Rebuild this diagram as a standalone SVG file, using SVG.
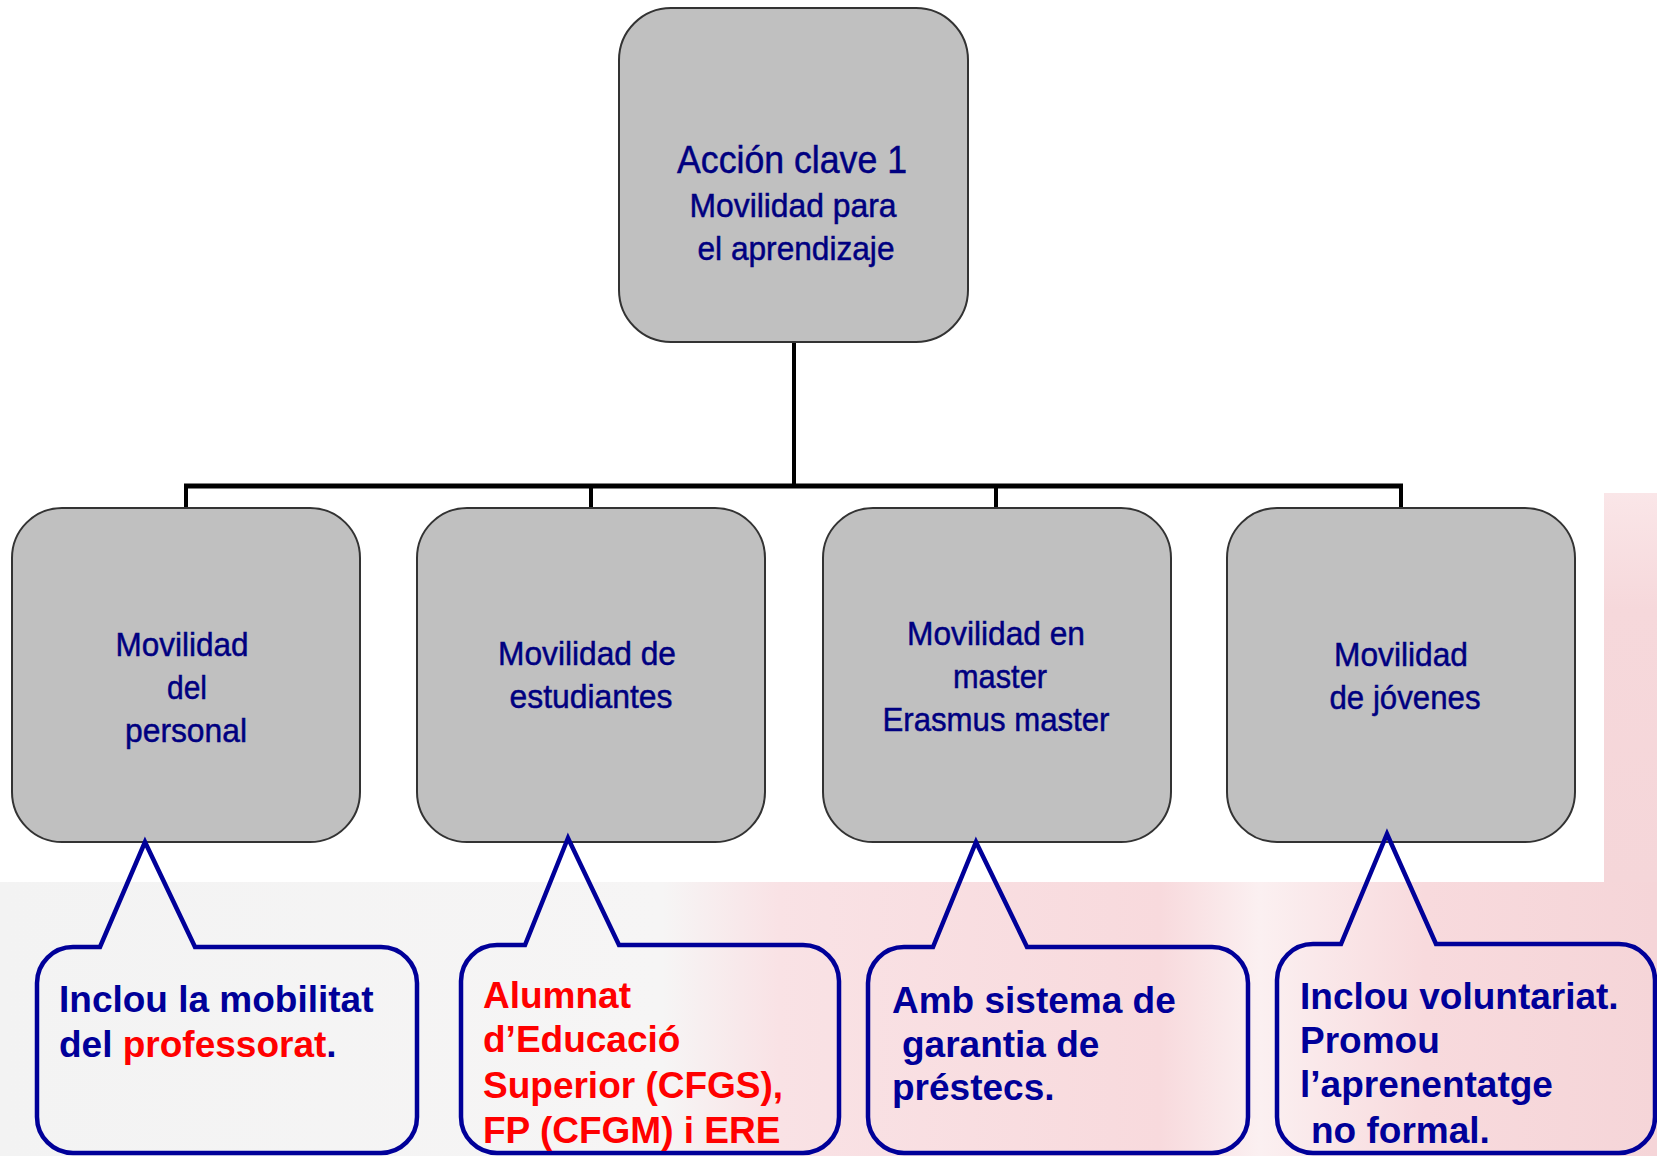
<svg xmlns="http://www.w3.org/2000/svg" width="1657" height="1156" viewBox="0 0 1657 1156">
<style>
.node rect{fill:#c0c0c0;stroke:#333333;stroke-width:2}
.nt{font-family:"Liberation Sans",Arial,sans-serif;fill:#000080;text-anchor:middle;stroke:#000080;stroke-width:0.5}
.conn{stroke:#000000;fill:none}
.callout path{fill:none;stroke:#000099;stroke-width:4.5;stroke-linejoin:miter}
.ct{font-family:"Liberation Sans",Arial,sans-serif;font-weight:bold;font-size:37px;fill:#000099}
.red{fill:#ff0000}
</style>
<defs>
<linearGradient id="bgLow" x1="0" y1="0" x2="1" y2="0">
<stop offset="0" stop-color="#f3f3f3"/>
<stop offset="0.40" stop-color="#f6f5f5"/>
<stop offset="0.47" stop-color="#f9e2e5"/>
<stop offset="0.70" stop-color="#f8dadd"/>
<stop offset="0.76" stop-color="#fbf0f1"/>
<stop offset="0.86" stop-color="#f8dadd"/>
<stop offset="1" stop-color="#f5d5d8"/>
</linearGradient>
<linearGradient id="bgRight" x1="0" y1="0" x2="0" y2="1">
<stop offset="0" stop-color="#fae6e8"/>
<stop offset="0.3" stop-color="#f6d8db"/>
<stop offset="1" stop-color="#f5d6d9"/>
</linearGradient>
</defs>
<rect x="0" y="0" width="1657" height="1156" fill="#ffffff"/>
<rect x="0" y="882" width="1657" height="274" fill="url(#bgLow)"/>
<rect x="1604" y="493" width="53" height="389" fill="url(#bgRight)"/>

<g id="connectors">
<line class="conn" x1="794" y1="342" x2="794" y2="486" stroke-width="4"/>
<line class="conn" x1="184" y1="486" x2="1403" y2="486" stroke-width="5"/>
<line class="conn" x1="186" y1="486" x2="186" y2="508" stroke-width="4"/>
<line class="conn" x1="591" y1="486" x2="591" y2="508" stroke-width="4"/>
<line class="conn" x1="996" y1="486" x2="996" y2="508" stroke-width="4"/>
<line class="conn" x1="1401" y1="486" x2="1401" y2="508" stroke-width="4"/>
</g>

<g id="node-root" class="node">
<rect x="619" y="8" width="349" height="334" rx="52"/>
<text class="nt" x="792" y="173" font-size="38" textLength="230" lengthAdjust="spacingAndGlyphs">Acción clave 1</text>
<text class="nt" x="793" y="217" font-size="33" textLength="207" lengthAdjust="spacingAndGlyphs">Movilidad para</text>
<text class="nt" x="796" y="260" font-size="33" textLength="197" lengthAdjust="spacingAndGlyphs">el aprendizaje</text>
</g>

<g id="node-personal" class="node">
<rect x="12" y="508" width="348" height="334" rx="50"/>
<text class="nt" x="182" y="656" font-size="34" textLength="133" lengthAdjust="spacingAndGlyphs">Movilidad</text>
<text class="nt" x="187" y="699" font-size="34" textLength="40" lengthAdjust="spacingAndGlyphs">del</text>
<text class="nt" x="186" y="742" font-size="34" textLength="122" lengthAdjust="spacingAndGlyphs">personal</text>
</g>

<g id="node-estudiantes" class="node">
<rect x="417" y="508" width="348" height="334" rx="50"/>
<text class="nt" x="587" y="665" font-size="34" textLength="178" lengthAdjust="spacingAndGlyphs">Movilidad de</text>
<text class="nt" x="591" y="708" font-size="34" textLength="163" lengthAdjust="spacingAndGlyphs">estudiantes</text>
</g>

<g id="node-master" class="node">
<rect x="823" y="508" width="348" height="334" rx="50"/>
<text class="nt" x="996" y="645" font-size="34" textLength="178" lengthAdjust="spacingAndGlyphs">Movilidad en</text>
<text class="nt" x="1000" y="688" font-size="34" textLength="94" lengthAdjust="spacingAndGlyphs">master</text>
<text class="nt" x="996" y="731" font-size="34" textLength="227" lengthAdjust="spacingAndGlyphs">Erasmus master</text>
</g>

<g id="node-jovenes" class="node">
<rect x="1227" y="508" width="348" height="334" rx="50"/>
<text class="nt" x="1401" y="666" font-size="34" textLength="134" lengthAdjust="spacingAndGlyphs">Movilidad</text>
<text class="nt" x="1405" y="709" font-size="34" textLength="151" lengthAdjust="spacingAndGlyphs">de jóvenes</text>
</g>

<g id="callout-personal" class="callout">
<path d="M73,947 L100,947 L145,842 L195,947 L381,947 A36,36 0 0 1 417,983 L417,1117 A36,36 0 0 1 381,1153 L73,1153 A36,36 0 0 1 37,1117 L37,983 A36,36 0 0 1 73,947 Z"/>
<text class="ct" x="59" y="1012">Inclou la mobilitat</text>
<text class="ct" x="59" y="1057">del <tspan class="red">professorat</tspan>.</text>
</g>

<g id="callout-estudiantes" class="callout">
<path d="M497,945 L525,945 L568,838 L619,945 L803,945 A36,36 0 0 1 839,981 L839,1117 A36,36 0 0 1 803,1153 L497,1153 A36,36 0 0 1 461,1117 L461,981 A36,36 0 0 1 497,945 Z"/>
<text class="ct red" x="483" y="1008">Alumnat</text>
<text class="ct red" x="483" y="1052">d’Educació</text>
<text class="ct red" x="483" y="1098">Superior (CFGS),</text>
<text class="ct red" x="483" y="1143">FP (CFGM) i ERE</text>
</g>

<g id="callout-master" class="callout">
<path d="M904,947 L933,947 L976,842 L1027,947 L1212,947 A36,36 0 0 1 1248,983 L1248,1117 A36,36 0 0 1 1212,1153 L904,1153 A36,36 0 0 1 868,1117 L868,983 A36,36 0 0 1 904,947 Z"/>
<text class="ct" x="892" y="1013">Amb sistema de</text>
<text class="ct" x="902" y="1057">garantia de</text>
<text class="ct" x="892" y="1100">préstecs.</text>
</g>

<g id="callout-jovenes" class="callout">
<path d="M1313,944 L1341,944 L1387,834 L1436,944 L1619,944 A36,36 0 0 1 1655,980 L1655,1117 A36,36 0 0 1 1619,1153 L1313,1153 A36,36 0 0 1 1277,1117 L1277,980 A36,36 0 0 1 1313,944 Z"/>
<text class="ct" x="1300" y="1009">Inclou voluntariat.</text>
<text class="ct" x="1300" y="1053">Promou</text>
<text class="ct" x="1300" y="1097">l’aprenentatge</text>
<text class="ct" x="1311" y="1143">no formal.</text>
</g>
</svg>
